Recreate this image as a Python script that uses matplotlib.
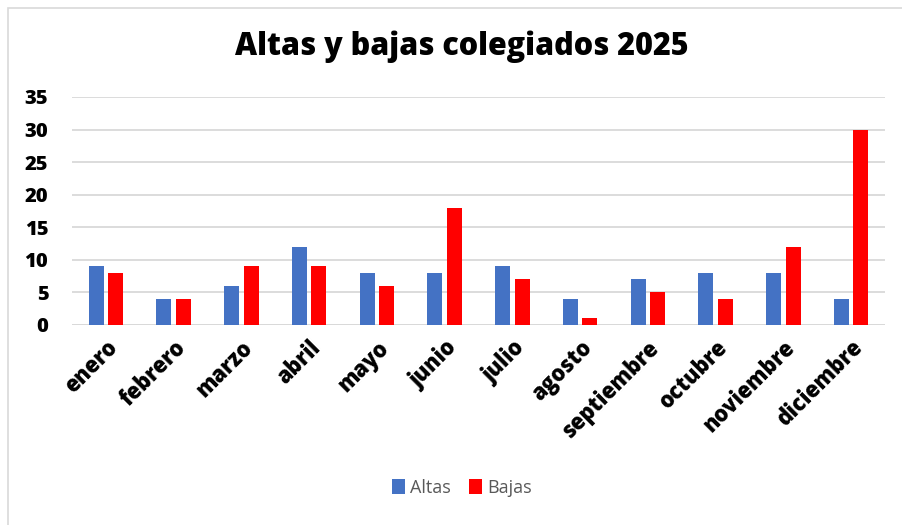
import matplotlib
matplotlib.use('Agg')
import matplotlib.pyplot as plt
import numpy as np
from matplotlib.patches import Rectangle

meses = ['enero', 'febrero', 'marzo', 'abril', 'mayo', 'junio', 'julio',
         'agosto', 'septiembre', 'octubre', 'noviembre', 'diciembre']
altas = [9, 4, 6, 12, 8, 8, 9, 4, 7, 8, 8, 4]
bajas = [8, 4, 9, 9, 6, 18, 7, 1, 5, 4, 12, 30]

plt.rcParams['font.family'] = ['Open Sans', 'DejaVu Sans']

fig = plt.figure(figsize=(9.02, 5.25), dpi=100)
W, H = 902, 525
# borde del grafico
fig.patches.append(Rectangle((8 / W, -0.1), 1.2, (525 - 8) / H + 0.1,
                             transform=fig.transFigure, fill=False,
                             edgecolor='#d9d9d9', linewidth=1.2))

ax = fig.add_axes([72 / W, 1 - 325 / H, (885 - 72) / W, (325 - 97) / H])
x = np.arange(len(meses))
bw = 0.22
ax.bar(x - 0.145, altas, bw, color='#4472C4', label='Altas', zorder=3)
ax.bar(x + 0.145, bajas, bw, color='#FF0000', label='Bajas', zorder=3)

ax.set_xlim(-0.5, len(meses) - 0.5)
ax.set_ylim(0, 35)
ax.set_yticks(range(0, 36, 5))
ax.yaxis.grid(True, color='#d9d9d9', linewidth=1.3, zorder=0)
for s in ax.spines.values():
    s.set_visible(False)
ax.axhline(0, color='#d9d9d9', linewidth=1.3, zorder=2)
ax.tick_params(axis='both', length=0)
ax.tick_params(axis='y', pad=17)
for lab in ax.get_yticklabels():
    lab.set_fontweight('heavy')
    lab.set_fontsize(14.5)

ax.set_xticks(x)
ax.set_xticklabels(meses, rotation=45, ha='right', rotation_mode='anchor',
                   fontsize=15.5, fontweight='heavy')
ax.tick_params(axis='x', pad=8)

fig.text(0.512, 1 - 47 / H, 'Altas y bajas colegiados 2025', ha='center',
         va='center', fontsize=22, fontweight='heavy')

fig.legend(loc='center', bbox_to_anchor=(0.512, 1 - 488 / H), ncol=2,
           frameon=False, fontsize=13, handlelength=0.7, handleheight=0.9,
           handletextpad=0.3, columnspacing=1.0, labelcolor='#595959')

fig.savefig('out.png', dpi=100)
